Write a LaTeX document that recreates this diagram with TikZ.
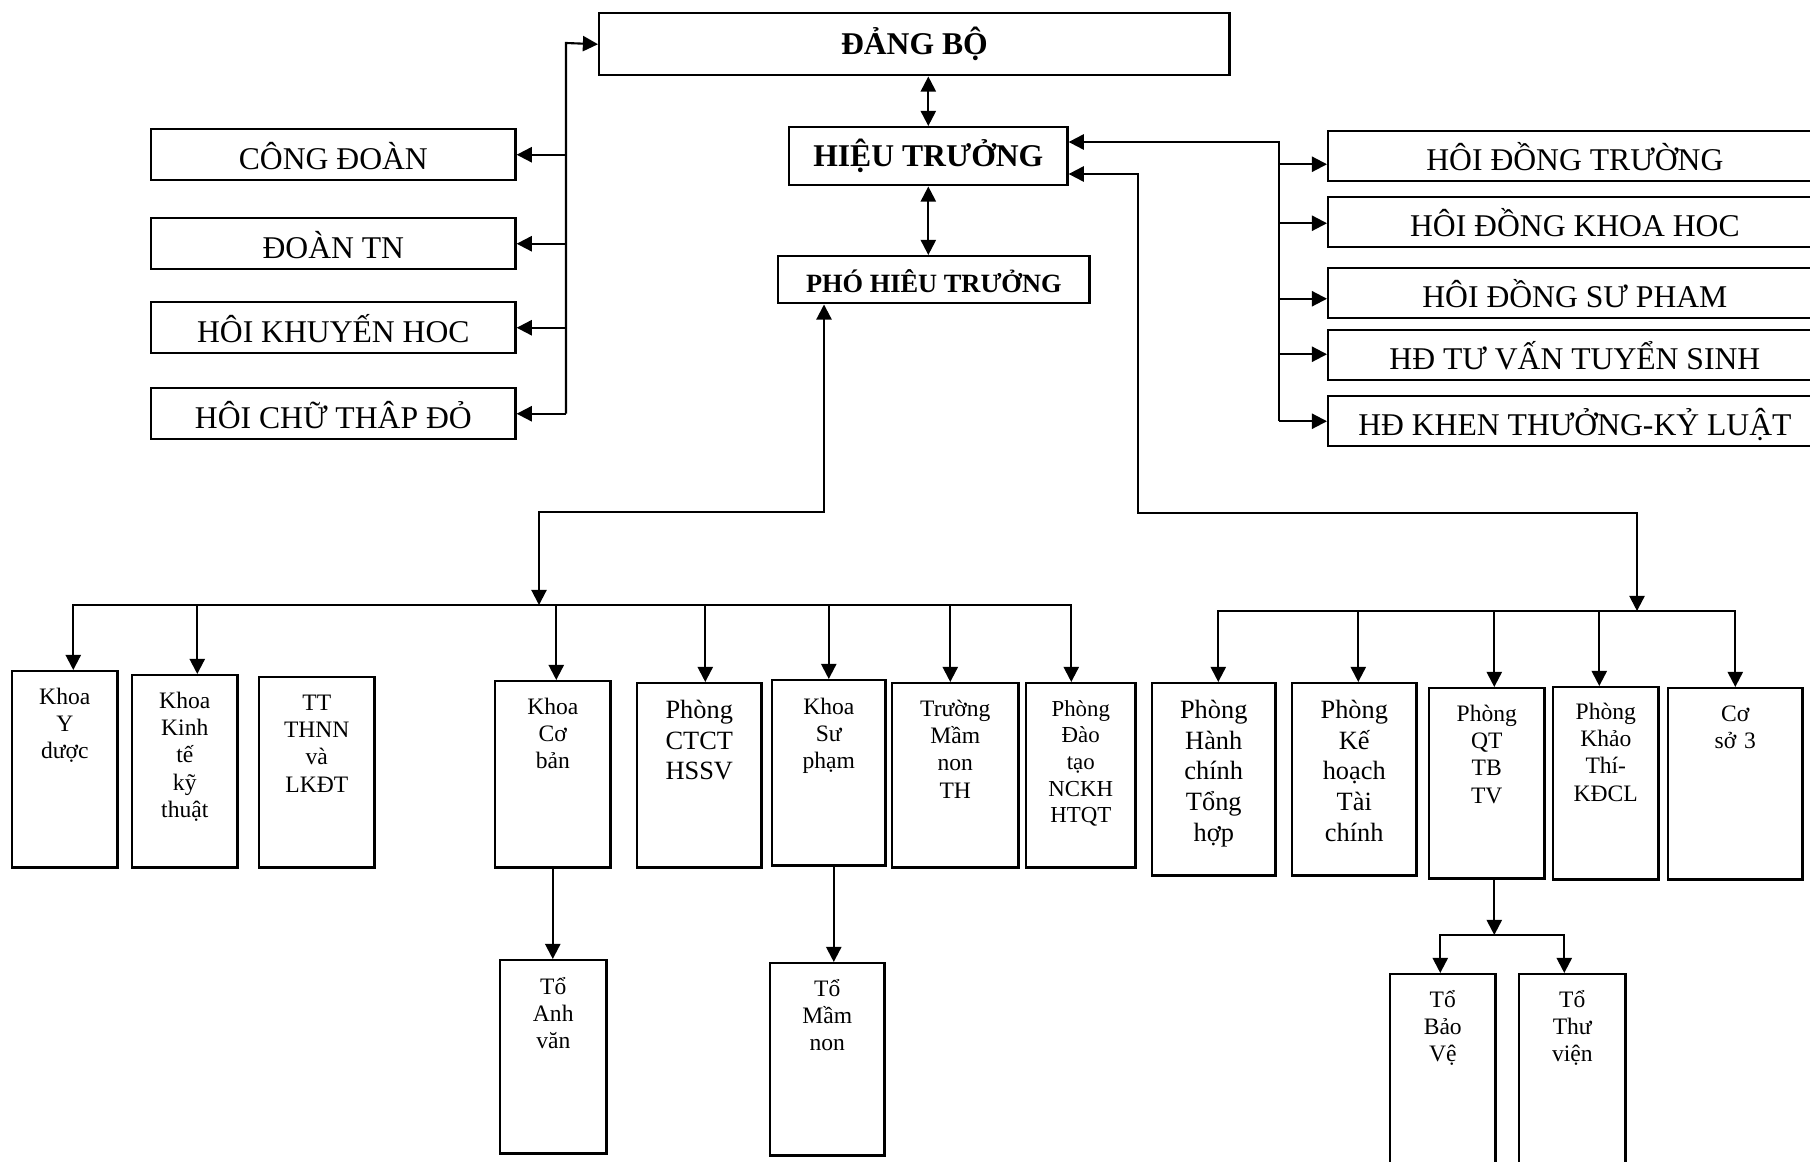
\documentclass[tikz,border=0pt]{standalone}
\usepackage{fontspec}
\setmainfont{Liberation Serif}
\usetikzlibrary{arrows.meta,positioning}

\begin{document}
\begin{tikzpicture}[x=0.01cm, y=-0.01cm, line width=0.6pt,
>={Triangle[length=4.3pt,width=4.3pt]},
unitbox/.style={draw, line width=0.7pt, inner sep=0pt, anchor=north west},
headbox/.style={unitbox, font=\fontsize{9}{10}\selectfont\bfseries, text height=6pt, text depth=0pt},
orgbox/.style={unitbox, font=\fontsize{9}{10}\selectfont, text height=8.2pt, text depth=0pt},
leftbox/.style={orgbox, minimum width=3.64cm, minimum height=0.51cm},
councilbox/.style={orgbox, minimum width=4.93cm, minimum height=0.5cm},
unitlabel/.style={inner sep=0pt, text width=1.1cm, align=center, text height=1.6mm, font=\fontsize{6.7}{7.8}\selectfont},
biglabel/.style={unitlabel, font=\fontsize{7.5}{8.8}\selectfont}]
\useasboundingbox (0,0) rectangle (1810,1161);
\clip (0,0) rectangle (1810,1161);

% Draw the head of the school
\node[headbox, minimum width=6.30cm, minimum height=0.62cm] (dangbo) at (598,12) {ĐẢNG BỘ};
\node[headbox, minimum width=2.78cm, minimum height=0.58cm] (hieutruong) at (788,126) {HIỆU TRƯỞNG};
\node[headbox, font=\fontsize{7.5}{9}\selectfont\bfseries, text height=7pt,
  minimum width=3.11cm, minimum height=0.47cm] (pho) at (777,255) {PHÓ HIÊU TRƯỞNG};

\draw[<->] (dangbo.south -| hieutruong.north) -- (hieutruong.north);
\draw[<->] (hieutruong.south) -- (hieutruong.south |- pho.north);

% Mass organisations on the left
\foreach \n/\y/\t in {congdoan/128/CÔNG ĐOÀN, doantn/217/ĐOÀN TN,
  khuyenhoc/301/HÔI KHUYẾN HOC, chuthapdo/387/HÔI CHỮ THÂP ĐỎ} {
  \node[leftbox] (\n) at (150,\y) {\t};
}
\coordinate (ltop) at (566,43);
\draw[->] (chuthapdo.east -| ltop) -- (ltop) -- (dangbo.west);
\foreach \n in {congdoan,doantn,khuyenhoc,chuthapdo} {
  \draw[->] (\n.east -| ltop) -- (\n.east);
}

% Councils on the right
\foreach \n/\y/\t in {hdtruong/130/HÔI ĐỒNG TRƯỜNG, hdkhoahoc/196/HÔI ĐỒNG KHOA HOC,
  hdsupham/267/HÔI ĐỒNG SƯ PHAM, hdtuyensinh/329/HĐ TƯ VẤN TUYỂN SINH,
  hdkhenthuong/395/HĐ KHEN THƯỞNG-KỶ LUẬT} {
  \node[councilbox] (\n) at (1327,\y) {\t};
}
\foreach \n/\s in {hdtruong/-0.08, hdkhoahoc/-0.01, hdsupham/-0.055, hdtuyensinh/0.01, hdkhenthuong/0} {
  \coordinate (\n-in) at ([yshift=\s cm]\n.west);
}
\coordinate (rtop) at (1279,142);
\draw[->] (hdkhenthuong-in -| rtop) -- (rtop) -- (rtop -| hieutruong.east);
\foreach \n in {hdtruong,hdkhoahoc,hdsupham,hdtuyensinh,hdkhenthuong} {
  \draw[->] (\n-in -| rtop) -- (\n-in);
}

% Faculties and centres under the vice principal
\node[unitbox, minimum width=1.05cm, minimum height=1.96cm] (kyd) at (11,670) {};
\node[unitlabel, below=1.7mm of kyd.north] (kyd-t) {Khoa\\Y\\dược};
\node[unitbox, minimum width=1.05cm, minimum height=1.92cm] (kkt) at (131,674) {};
\node[unitlabel, below=1.7mm of kkt.north] (kkt-t) {Khoa\\Kinh\\tế\\kỹ\\thuật};
\node[unitbox, minimum width=1.15cm, minimum height=1.90cm] (tt) at (258,676) {};
\node[unitlabel, below=1.7mm of tt.north] (tt-t) {TT\\THNN\\và\\LKĐT};
\node[unitbox, minimum width=1.15cm, minimum height=1.86cm] (kcb) at (494,680) {};
\node[unitlabel, below=1.7mm of kcb.north] (kcb-t) {Khoa\\Cơ\\bản};
\node[unitbox, minimum width=1.24cm, minimum height=1.84cm] (ctct) at (636,682) {};
\node[biglabel, below=1.9mm of ctct.north] (ctct-t) {Phòng\\CTCT\\HSSV};
\node[unitbox, minimum width=1.13cm, minimum height=1.85cm] (ksp) at (771,679) {};
\node[unitlabel, below=1.8mm of ksp.north] (ksp-t) {Khoa\\Sư\\phạm};
\node[unitbox, minimum width=1.26cm, minimum height=1.84cm] (tmn) at (891,682) {};
\node[unitlabel, below=1.7mm of tmn.north] (tmn-t) {Trường\\Mầm\\non\\TH};
\node[unitbox, minimum width=1.09cm, minimum height=1.84cm] (pdt) at (1025,682) {};
\node[unitlabel, font=\fontsize{6.5}{7.6}\selectfont, below=1.7mm of pdt.north] (pdt-t) {Phòng\\Đào\\tạo\\NCKH\\HTQT};

% Offices on the right
\node[unitbox, minimum width=1.23cm, minimum height=1.92cm] (hc) at (1151,682) {};
\node[biglabel, below=1.9mm of hc.north] (hc-t) {Phòng\\Hành\\chính\\Tổng\\hợp};
\node[unitbox, minimum width=1.24cm, minimum height=1.92cm] (kh) at (1291,682) {};
\node[biglabel, below=1.9mm of kh.north] (kh-t) {Phòng\\Kế\\hoạch\\Tài\\chính};
\node[unitbox, minimum width=1.15cm, minimum height=1.90cm] (qt) at (1428,687) {};
\node[unitlabel, below=1.7mm of qt.north] (qt-t) {Phòng\\QT\\TB\\TV};
\node[unitbox, minimum width=1.05cm, minimum height=1.92cm] (kt) at (1552,686) {};
\node[unitlabel, below=1.6mm of kt.north] (kt-t) {Phòng\\Khảo\\Thí-\\KĐCL};
\node[unitbox, minimum width=1.34cm, minimum height=1.91cm] (cs3) at (1667,687) {};
\node[unitlabel, below=1.7mm of cs3.north] (cs3-t) {Cơ\\sở 3};

% Groups at the bottom
\node[unitbox, minimum width=1.06cm, minimum height=1.93cm] (tav) at (499,959) {};
\node[unitlabel, below=1.8mm of tav.north] (tav-t) {Tổ\\Anh\\văn};
\node[unitbox, minimum width=1.14cm, minimum height=1.92cm] (tmnon) at (769,962) {};
\node[unitlabel, below=1.7mm of tmnon.north] (tmnon-t) {Tổ\\Mầm\\non};
\node[unitbox, minimum width=1.05cm, minimum height=2.20cm] (tbv) at (1389,973) {};
\node[unitlabel, below=1.7mm of tbv.north] (tbv-t) {Tổ\\Bảo\\Vệ};
\node[unitbox, minimum width=1.06cm, minimum height=2.20cm] (ttv) at (1518,973) {};
\node[unitlabel, below=1.7mm of ttv.north] (ttv-t) {Tổ\\Thư\\viện};

% Where the arrows come into the units (not always the middle)
\foreach \n/\s in {kyd/0.085, kkt/0.125, kcb/0.035, ctct/0.06, ksp/0, tmn/-0.05, pdt/-0.095,
  hc/0.045, kh/0.04, qt/0.075, kt/-0.065, cs3/0, tbv/-0.025, ttv/-0.08} {
  \coordinate (\n-in) at ([xshift=\s cm]\n.north);
}

% Vice principal down to the left bus
\coordinate (pb) at (824,512);
\coordinate (lbus) at (539,605);
\draw[<->] (lbus) -- (lbus |- pb) -- (pb) -- (pb |- pho.south);
\draw[<->] (kyd-in) -- (kyd-in |- lbus) -- (pdt-in |- lbus) -- (pdt-in);
\foreach \n in {kkt,kcb,ctct,ksp,tmn} {
  \draw[->] (\n-in |- lbus) -- (\n-in);
}

% Principal down to the right bus
\coordinate (hb1) at (1138,174);
\coordinate (hb2) at (1138,513);
\coordinate (rbus) at (1637,611);
\draw[<->] (hb1 -| hieutruong.east) -- (hb1) -- (hb2) -- (hb2 -| rbus) -- (rbus);
\draw[<->] (hc-in) -- (hc-in |- rbus) -- (cs3-in |- rbus) -- (cs3-in);
\foreach \n in {kh,qt,kt} {
  \draw[->] (\n-in |- rbus) -- (\n-in);
}

% Groups under their units
\draw[->] (kcb.south) -- (kcb.south |- tav.north);
\coordinate (ksp-out) at ([xshift=0.05cm]ksp.south);
\draw[->] (ksp-out) -- (ksp-out |- tmnon.north);
\coordinate (qt-out) at ([xshift=0.075cm]qt.south);
\coordinate (tbar) at (1493,935);
\draw[->] (qt-out) -- (qt-out |- tbar);
\draw[<->] (tbv-in) -- (tbv-in |- tbar) -- (ttv-in |- tbar) -- (ttv-in);

\end{tikzpicture}
\end{document}
